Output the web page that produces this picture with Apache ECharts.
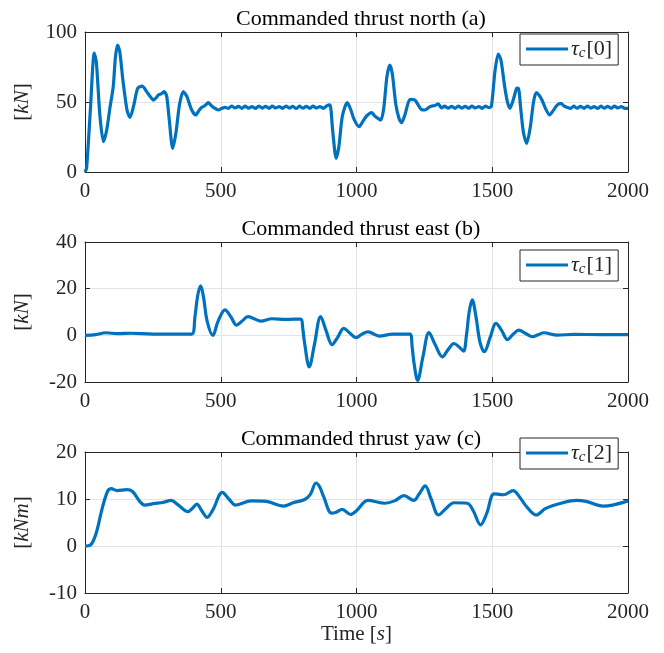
<!DOCTYPE html>
<html><head><meta charset="utf-8">
<script src="https://cdn.jsdelivr.net/npm/echarts@6/dist/echarts.min.js"></script>
<style>html,body{margin:0;padding:0;background:#fff}#c{width:664px;height:653px}</style>
</head><body><div id="c"></div>
<script>
// ---- data (time [s], value) ----
const northT = [0,6,20,34,42,55,68,80,92,104,112,120,128,140,155,166,180,194,211,227,240,252,262,270,282,292,301,310,323,335,348,362,375,393,408,420,430,442,454,465,473,491,505,516,
528,540,553,565,578,590,603,615,628,640,653,665,678,690,703,715,728,740,753,765,778,790,803,815,828,840,853,865,878,890,
902,912,925,935,948,966,978,991,1010,1023,1037,1056,1065,1074,1089,1100,1112,1123,1132,1145,1157,1166,1180,1197,1215,1230,1240,1252,1271,1288,1301,
1313,1325,1338,1350,1363,1375,1388,1400,1413,1425,1438,1450,1463,1475,1488,
1497,1510,1522,1532,1545,1556,1565,1578,1590,1596,1605,1615,1627,1640,1652,1662,1672,1683,1697,1711,1725,1739,1753,1765,1775,
1788,1800,1813,1825,1838,1850,1863,1875,1888,1900,1913,1925,1938,1950,1963,1975,1988,2000];
const northV = [0,3,45,85,78,40,21.7,30,46,61,82,90.7,86,65,44,39,48,59.8,61.4,57.4,54,51.4,53,55,56,57.4,54,38,16.9,28,48,57.4,54,44.3,40.7,44,46.2,47.5,49.5,47.5,46.2,44.3,45.6,46.2,
45.4,47.1,45.7,46.9,45.5,47.0,45.6,46.8,45.4,47.1,45.6,46.9,45.5,47.0,45.7,46.8,45.5,47.1,45.6,46.9,45.4,47.0,45.6,46.9,45.5,47.0,45.7,46.8,45.5,47.2,
47.9,30,9.8,18,40,49.5,45,37.6,32.4,36,40,42.4,40.5,39,37.1,45,68,76.4,70,48,38,35.2,42,51.9,51.4,47,44.5,44.3,46.7,47.5,48.6,
45.8,47.0,45.6,46.9,45.5,47.1,45.6,46.9,45.5,47.0,45.7,46.8,45.5,47.1,46.0,
47,72,84.3,80,62,50,45.5,52,59.8,60,45,28,20.5,32,50,56.7,55,51.4,45,40.7,44,47.8,49,47,46.2,
45.4,47.0,45.6,46.9,45.5,47.1,45.6,46.8,45.4,47.0,45.6,46.9,45.5,47.0,45.7,46.8,45.5,45.5];

const eastT = [0,40,76,120,170,250,393,405,415,426,437,450,471,490,516,537,558,578,600,625,647,689,739,795,802,809,826,845,868,888,910,930,953,975,999,1020,1042,1063,1084,1133,1197,1205,1212,1225,1245,1267,1290,1316,1338,1359,1378,1394,1405,1415,1426,1440,1455,1471,1492,1514,1535,1556,1577,1598,1623,1648,1670,1690,1739,1800,1900,2000];
const eastV = [0,0.3,1.1,0.7,0.9,0.5,0.5,8,17,21.2,16,6,0,6,10.9,8,4.4,6,8,7,6.1,7.1,6.8,7,3,-3.5,-13.5,-4,8,2,-4,-1,3,1,-1,0.5,1.5,0.6,-0.3,0.5,0.5,-5,-12,-19.3,-9,1.2,-4,-9.2,-6,-3.5,-5,-6.8,0,10,15.2,8,-3,-7,-1,5.1,2,-1.8,0.5,2.2,0.8,-0.6,0.3,1.1,0.1,0.4,0.3,0.3];

const yawT = [0,20,41,62,83,97,118,154,175,203,220,252,290,316,344,379,395,412,430,450,471,506,530,555,612,668,731,767,809,830,851,865,879,908,925,947,978,1000,1042,1105,1140,1175,1211,1230,1253,1275,1302,1330,1359,1408,1430,1457,1480,1507,1542,1577,1600,1626,1662,1697,1753,1810,1845,1908,1943,2000];
const yawV = [0,0.2,2.7,7.7,11.6,12.2,11.8,12,11.6,9.4,8.7,9,9.3,9.7,8.7,7.3,8,8.9,7.5,6.1,7.7,11.4,10,8.7,9.6,9.5,8.5,9.2,9.9,11,13.4,12.5,10.5,7,7.2,7.8,6.7,7.5,9.7,9.1,9.6,10.7,9.7,11,12.8,10,6.6,8,9.2,9.1,7.5,4.5,7,11.1,10.9,11.8,10.5,8.4,6.6,8,9.1,9.7,9.5,8.5,8.7,9.6];

const titles = ['Commanded thrust north (a)','Commanded thrust east (b)','Commanded thrust yaw (c)'];
const yNames = ['kN','kN','kNm'];
const yMins = [0,-20,-10], yMaxs = [100,40,20], yInts = [50,20,10];
const legendLabels = ['0','1','2'];

// ---- build ----
const FONT = 'Liberation Serif';
const AX = '#262626', GRIDC = '#e3e3e3', BLUE = '#0072BD';
const tops = [32,242,452], hts = [140,140,141];
const legTops = [34,250,438];
const smooths = [0.25,0.35,0.35];
const grid = [], xAxis = [], yAxis = [], series = [], legend = [], title = [];
const pairs = [[northT,northV],[eastT,eastV],[yawT,yawV]];
for (let i=0;i<3;i++){
  grid.push({left:85, top:tops[i], width:543, height:hts[i], containLabel:false});
  const baseX = {type:'value', gridIndex:i, min:0, max:2000, interval:500,
    axisLine:{show:true,onZero:false,lineStyle:{color:AX,width:1}},
    axisTick:{show:true,inside:true,length:5,lineStyle:{color:AX}}};
  xAxis.push(Object.assign({}, baseX, {position:'bottom',
    axisLabel:{show:true,margin:9,fontFamily:FONT,fontSize:21,color:AX,formatter:v=>String(v)},
    splitLine:{show:true,lineStyle:{color:GRIDC,width:1}},
    name: i===2 ? '{n|Time }{b|[}{i|s}{b|]}' : '', nameLocation:'middle', nameGap:31,
    nameTextStyle:{fontFamily:FONT,fontSize:21,color:AX,rich:{n:{fontFamily:FONT,fontSize:21,color:AX},b:{fontFamily:FONT,fontSize:21,color:AX},i:{fontFamily:FONT,fontSize:21,fontStyle:'italic',color:AX}}}}));
  xAxis.push(Object.assign({}, baseX, {position:'top', axisLabel:{show:false}, splitLine:{show:false}}));
  const baseY = {type:'value', gridIndex:i, min:yMins[i], max:yMaxs[i], interval:yInts[i],
    axisLine:{show:true,onZero:false,lineStyle:{color:AX,width:1}},
    axisTick:{show:true,inside:true,length:5,lineStyle:{color:AX}}};
  yAxis.push(Object.assign({}, baseY, {position:'left',
    axisLabel:{show:true,margin:8,fontFamily:FONT,fontSize:21,color:AX},
    splitLine:{show:true,lineStyle:{color:GRIDC,width:1}},
    name:'{b|[}{i|'+yNames[i]+'}{b|]}', nameLocation:'middle', nameGap:52, nameRotate:90,
    nameTextStyle:{fontFamily:FONT,fontSize:21,color:AX,rich:{b:{fontFamily:FONT,fontSize:21,color:AX},i:{fontFamily:FONT,fontSize:21,fontStyle:'italic',color:AX}}}}));
  yAxis.push(Object.assign({}, baseY, {position:'right', axisLabel:{show:false}, splitLine:{show:false}}));
  const data = pairs[i][0].map((t,k)=>[t,pairs[i][1][k]]);
  series.push({type:'line', name:'tau'+i, xAxisIndex:2*i, yAxisIndex:2*i, data:data,
    showSymbol:false, smooth:smooths[i], lineStyle:{color:BLUE,width:3.2}, itemStyle:{color:BLUE}, animation:false, clip:true});
  legend.push({data:['tau'+i], left:520, top:legTops[i], orient:'horizontal',
    backgroundColor:'#fff', borderColor:AX, borderWidth:1, borderRadius:0, padding:[4,6,4,6],
    icon:'rect', itemWidth:42, itemHeight:3, itemGap:4,
    formatter: ()=>'{i|τ}{s|c}{n|['+legendLabels[i]+']}',
    textStyle:{fontFamily:FONT,fontSize:21,color:AX,padding:[0,0,0,-2],
      rich:{i:{fontFamily:FONT,fontSize:22,fontStyle:'italic',color:AX},
            s:{fontFamily:FONT,fontSize:15,fontStyle:'italic',color:AX,padding:[9,1,0,0]},
            n:{fontFamily:FONT,fontSize:22,color:AX}}}});
  title.push({text:titles[i], left:356, textAlign:'center', top:tops[i]-29,
    textStyle:{fontFamily:FONT,fontSize:22,fontWeight:'normal',color:'#000'}});
}
const chart = echarts.init(document.getElementById('c'), null, {renderer:'canvas'});
chart.setOption({animation:false, backgroundColor:'#fff', title, grid, xAxis, yAxis, series, legend});
</script></body></html>
